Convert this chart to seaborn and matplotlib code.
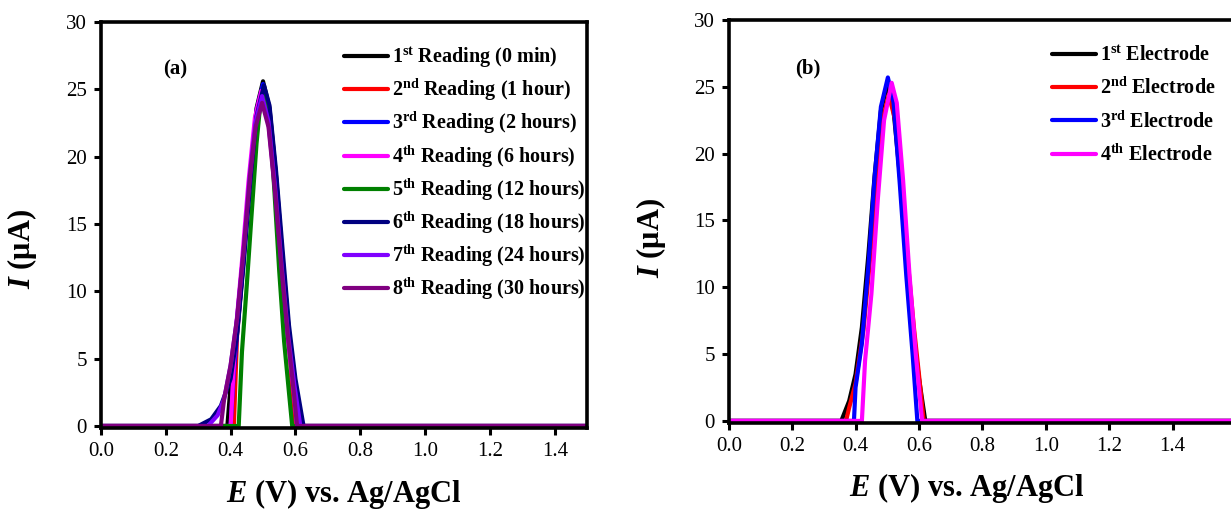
import matplotlib
matplotlib.use("Agg")
import matplotlib.pyplot as plt
import seaborn as sns

# ---- panel (a): stability readings ----
a1_x = [0.0, 0.39, 0.40, 0.42, 0.44, 0.46, 0.48, 0.50, 0.52, 0.54, 0.56, 0.58, 0.60, 0.615, 1.5]
a1_y = [0, 0, 3.0, 7.0, 12.5, 18.6, 23.6, 25.6, 23.6, 18.6, 12.5, 7.0, 3.0, 0, 0]
a2_x = [0.0, 0.41, 0.42, 0.44, 0.46, 0.48, 0.50, 0.52, 0.54, 0.56, 0.58, 0.595, 1.5]
a2_y = [0, 0, 6.8, 12.3, 18.4, 23.3, 25.3, 23.3, 18.4, 12.3, 6.8, 0, 0]
a3_x = [0.0, 0.40, 0.41, 0.42, 0.44, 0.46, 0.48, 0.50, 0.52, 0.54, 0.56, 0.58, 0.60, 0.61, 1.5]
a3_y = [0, 0, 4.0, 6.9, 12.4, 18.5, 23.4, 25.4, 23.4, 18.5, 12.4, 6.9, 3.0, 0, 0]
a4_x = [0.0, 0.40, 0.415, 0.435, 0.455, 0.475, 0.495, 0.515, 0.535, 0.555, 0.575, 0.595, 0.605, 1.5]
a4_y = [0, 0, 6.8, 12.2, 18.1, 22.9, 24.9, 22.9, 18.1, 12.2, 6.8, 2.5, 0, 0]
a5_x = [0.0, 0.425, 0.435, 0.45, 0.465, 0.48, 0.49, 0.505, 0.52, 0.535, 0.55, 0.565, 0.58, 0.59, 1.5]
a5_y = [0, 0, 5.5, 10.5, 15.8, 21.0, 23.5, 25.0, 23.0, 17.5, 11.5, 6.3, 2.5, 0, 0]
a6_x = [0.0, 0.30, 0.34, 0.37, 0.40, 0.42, 0.44, 0.46, 0.48, 0.503, 0.52, 0.54, 0.56, 0.58, 0.60, 0.625, 1.5]
a6_y = [0, 0, 0.5, 1.5, 3.5, 6.8, 12.0, 18.0, 23.0, 25.3, 23.8, 19.0, 13.2, 7.5, 3.5, 0, 0]
a7_x = [0.0, 0.33, 0.36, 0.38, 0.40, 0.42, 0.44, 0.46, 0.477, 0.497, 0.517, 0.537, 0.557, 0.577, 0.597, 0.615, 1.5]
a7_y = [0, 0, 0.8, 2.0, 4.5, 8.0, 13.0, 18.8, 22.6, 24.5, 22.6, 17.8, 12.0, 6.8, 3.0, 0, 0]
a8_x = [0.0, 0.37, 0.38, 0.40, 0.42, 0.44, 0.46, 0.477, 0.497, 0.517, 0.537, 0.557, 0.577, 0.595, 0.605, 1.5]
a8_y = [0, 0, 2.0, 4.5, 8.0, 13.0, 18.6, 22.2, 24.0, 22.2, 17.4, 11.7, 6.6, 2.5, 0, 0]

a_labels = [
    r"1$^{\mathrm{st}}$ Reading (0 min)",
    r"2$^{\mathrm{nd}}$ Reading (1 hour)",
    r"3$^{\mathrm{rd}}$ Reading (2 hours)",
    r"4$^{\mathrm{th}}$ Reading (6 hours)",
    r"5$^{\mathrm{th}}$ Reading (12 hours)",
    r"6$^{\mathrm{th}}$ Reading (18 hours)",
    r"7$^{\mathrm{th}}$ Reading (24 hours)",
    r"8$^{\mathrm{th}}$ Reading (30 hours)",
]
a_colors = ["#000000", "#FF0000", "#0000FF", "#FF00FF", "#008000", "#000080", "#8000FF", "#800080"]

# ---- panel (b): reproducibility electrodes ----
b1_x = [0.0, 0.355, 0.36, 0.38, 0.40, 0.42, 0.44, 0.46, 0.48, 0.50, 0.52, 0.54, 0.56, 0.58, 0.60, 0.62, 1.6]
b1_y = [0, 0, 0.3, 1.5, 3.5, 7.0, 12.3, 18.3, 23.2, 25.2, 23.2, 18.3, 12.3, 7.0, 3.2, 0, 0]
b2_x = [0.0, 0.37, 0.38, 0.40, 0.425, 0.445, 0.465, 0.485, 0.505, 0.525, 0.545, 0.565, 0.585, 0.60, 0.615, 1.6]
b2_y = [0, 0, 1.0, 2.8, 6.8, 11.9, 17.8, 22.5, 24.4, 22.5, 17.8, 11.9, 6.8, 3.5, 0, 0]
b3_x = [0.0, 0.395, 0.40, 0.42, 0.44, 0.46, 0.48, 0.502, 0.52, 0.54, 0.56, 0.58, 0.595, 1.6]
b3_y = [0, 0, 2.5, 5.8, 11.4, 18.2, 23.5, 25.7, 23.8, 17.6, 10.9, 5.0, 0, 0]
b4_x = [0.0, 0.42, 0.43, 0.45, 0.47, 0.49, 0.514, 0.53, 0.55, 0.57, 0.59, 0.61, 1.6]
b4_y = [0, 0, 4.5, 9.5, 16.5, 22.5, 25.3, 23.8, 18.0, 11.0, 5.0, 0, 0]

b_labels = [
    r"1$^{\mathrm{st}}$ Electrode",
    r"2$^{\mathrm{nd}}$ Electrode",
    r"3$^{\mathrm{rd}}$ Electrode",
    r"4$^{\mathrm{th}}$ Electrode",
]
b_colors = ["#000000", "#FF0000", "#0000FF", "#FF00FF"]

x_ticks = [0.0, 0.2, 0.4, 0.6, 0.8, 1.0, 1.2, 1.4]
y_ticks = [0, 5, 10, 15, 20, 25, 30]

sns.set_style("ticks")
plt.rcParams["font.family"] = ["Liberation Serif", "DejaVu Serif"]
plt.rcParams["mathtext.fontset"] = "custom"
plt.rcParams["mathtext.rm"] = "Liberation Serif:bold"
plt.rcParams["mathtext.bf"] = "Liberation Serif:bold"
plt.rcParams["mathtext.it"] = "Liberation Serif:italic:bold"
plt.rcParams["axes.edgecolor"] = "black"
plt.rcParams["xtick.color"] = "black"
plt.rcParams["ytick.color"] = "black"
plt.rcParams["text.color"] = "black"
plt.rcParams["axes.labelcolor"] = "black"

fig = plt.figure(figsize=(12.31, 5.12), dpi=100)
ax_a = fig.add_axes([0.082, 0.164, 0.395, 0.793])
ax_b = fig.add_axes([0.592, 0.174, 0.412, 0.787])

a_series = [(a1_x, a1_y), (a2_x, a2_y), (a3_x, a3_y), (a4_x, a4_y),
            (a5_x, a5_y), (a6_x, a6_y), (a7_x, a7_y), (a8_x, a8_y)]
b_series = [(b1_x, b1_y), (b2_x, b2_y), (b3_x, b3_y), (b4_x, b4_y)]

for (xs, ys), lab, col in zip(a_series, a_labels, a_colors):
    sns.lineplot(x=xs, y=ys, ax=ax_a, color=col, linewidth=3.0, label=lab)
for (xs, ys), lab, col in zip(b_series, b_labels, b_colors):
    sns.lineplot(x=xs, y=ys, ax=ax_b, color=col, linewidth=3.0, label=lab)


def style_axis(ax, xmax, tag, tag_xy, ylab_xy, xlab_xy):
    ax.set_xlim(0, xmax)
    ax.set_ylim(-0.15, 30)
    ax.set_xticks(x_ticks)
    ax.set_xticklabels([f"{t:.1f}" for t in x_ticks])
    ax.set_yticks(y_ticks)
    ax.tick_params(direction="out", length=5, width=2.2, labelsize=15, pad=5)
    for sp in ax.spines.values():
        sp.set_linewidth(2.6)
        sp.set_visible(True)
    ax.set_xlabel(r"$E$ (V) vs. Ag/AgCl", fontsize=22, fontweight="bold")
    ax.set_ylabel(r"$I$ ($\mathrm{\mu}$A)", fontsize=22, fontweight="bold")
    ax.yaxis.set_label_coords(*ylab_xy)
    ax.xaxis.set_label_coords(*xlab_xy)
    ax.text(tag_xy[0], tag_xy[1], tag, fontsize=15, fontweight="bold", ha="center", va="center")


style_axis(ax_a, 1.5, "(a)", (0.23, 26.5), (-0.128, 0.44), (0.5, -0.12))
style_axis(ax_b, 1.6, "(b)", (0.25, 26.4), (-0.120, 0.46), (0.469, -0.12))

leg_kw = dict(loc="upper left", frameon=False, prop={"weight": "bold", "size": 14.5},
              handlelength=2.2, handletextpad=0.2, borderaxespad=0, borderpad=0)
ax_a.legend(bbox_to_anchor=(0.50, 0.942), labelspacing=0.33, **leg_kw)
ax_b.legend(bbox_to_anchor=(0.637, 0.935), labelspacing=0.58, **leg_kw)

fig.savefig("out.png", dpi=100)
